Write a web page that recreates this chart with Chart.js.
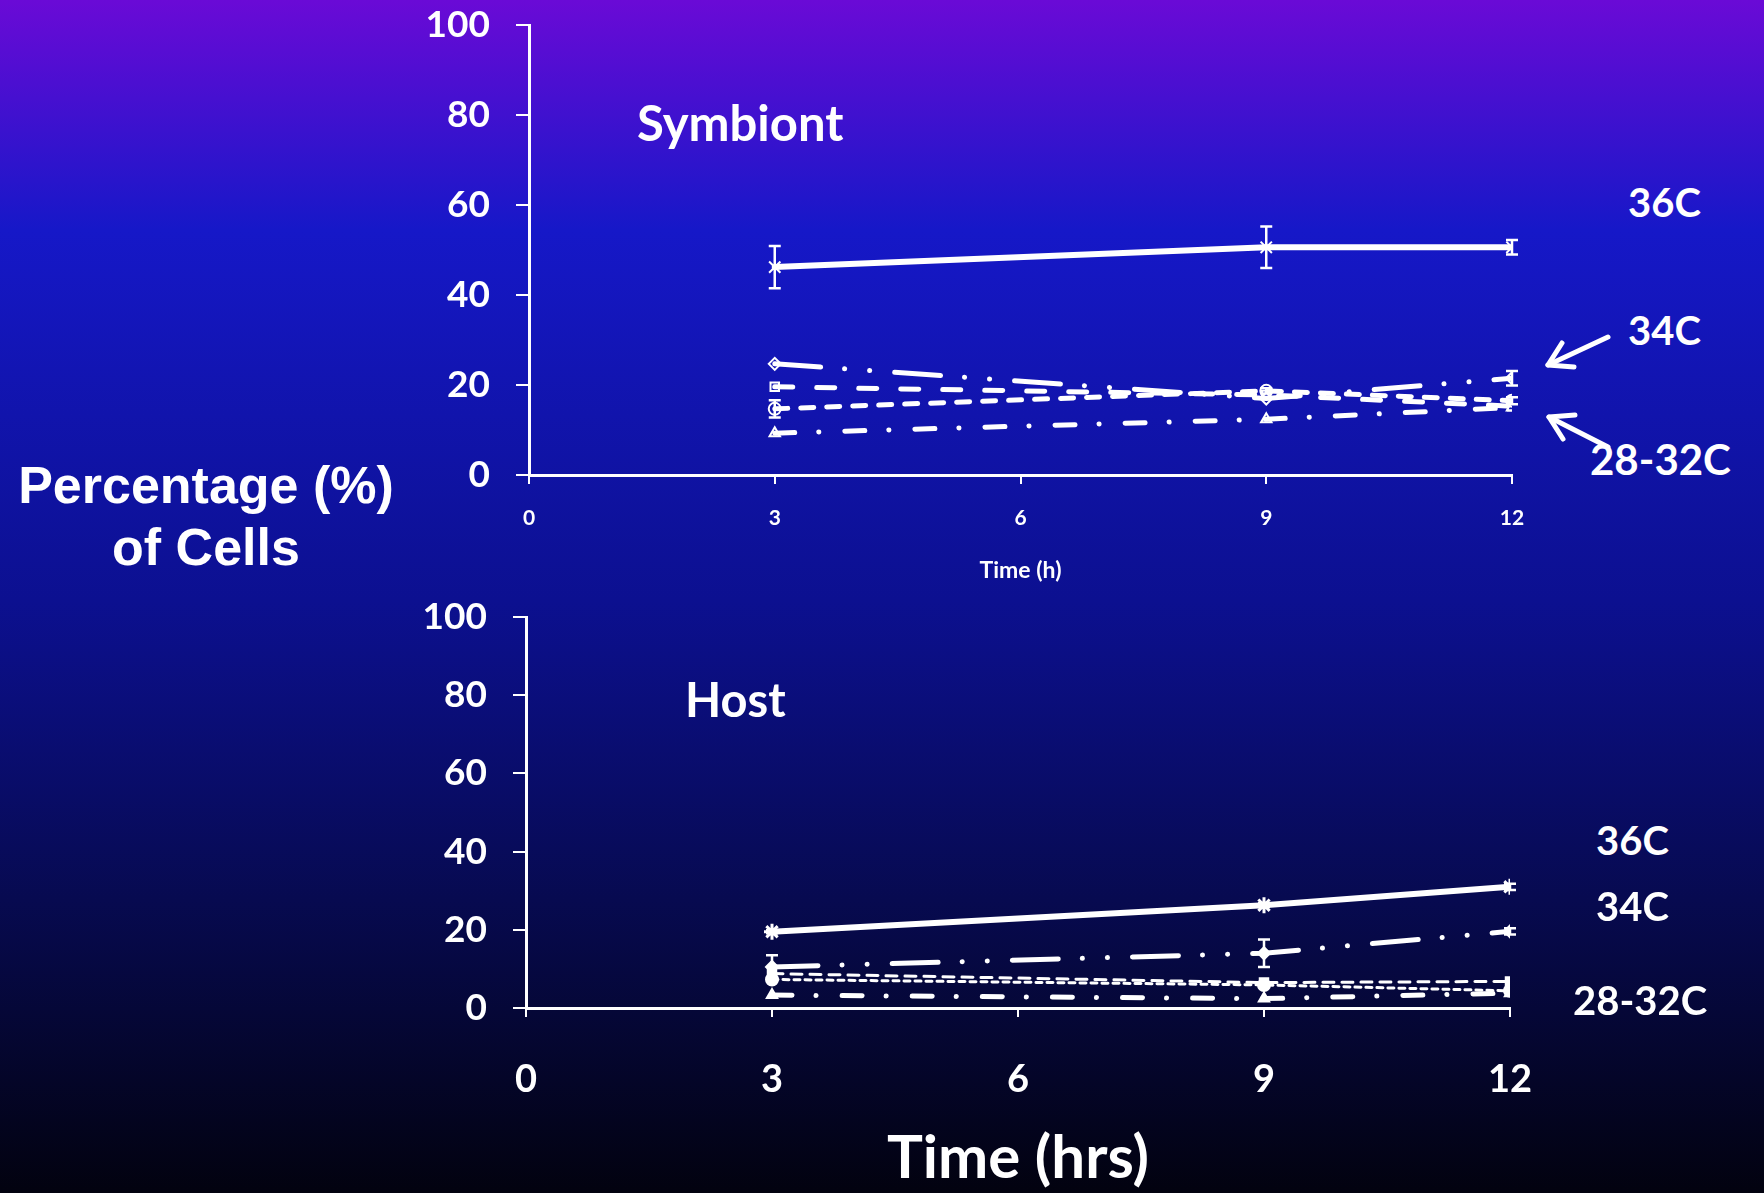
<!DOCTYPE html>
<html>
<head>
<meta charset="utf-8">
<script src="https://cdn.jsdelivr.net/npm/chart.js@4"></script>
<style>
  html, body { margin: 0; padding: 0; }
  body {
    width: 1764px; height: 1193px; overflow: hidden; position: relative;
    background: linear-gradient(to bottom, #6a0ad6 0px, #1618c8 230px, #0c1090 600px, #070a50 900px, #02020f 1193px);
    font-family: Lato, "Open Sans", sans-serif; color: #fff;
  }
  .wrap { position: absolute; }
  .lbl { position: absolute; font-weight: bold; white-space: nowrap; line-height: 1; }
</style>
</head>
<body>
<div class="wrap" style="left:400px; top:-30px; width:1152px; height:630px;"><canvas id="symbiontChart"></canvas></div>
<div class="wrap" style="left:400px; top:560px; width:1190px; height:633px;"><canvas id="hostChart"></canvas></div>

<div class="lbl" style="left:0px; top:454px; width:412px; text-align:center; font-family:'Liberation Sans', Arial, sans-serif; font-size:52px; line-height:62px;">Percentage (%)<br>of Cells</div>
<div class="lbl" style="left:637px; top:98px; font-size:49px;">Symbiont</div>
<div class="lbl" style="left:685px; top:676px; font-size:47px;">Host</div>

<div class="lbl" style="left:1628px; top:182px; font-size:40px;">36C</div>
<div class="lbl" style="left:1628px; top:310px; font-size:40px;">34C</div>
<div class="lbl" style="left:1590px; top:438px; font-size:42px;">28-32C</div>
<div class="lbl" style="left:1596px; top:820px; font-size:40px;">36C</div>
<div class="lbl" style="left:1596px; top:886px; font-size:40px;">34C</div>
<div class="lbl" style="left:1573px; top:980px; font-size:40px;">28-32C</div>

<svg style="position:absolute; left:0; top:0;" width="1764" height="1193">
  <g stroke="#fff" stroke-width="5" fill="none" stroke-linecap="round" stroke-linejoin="round">
    <line x1="1608" y1="337" x2="1548" y2="365"/>
    <polyline points="1562,343 1548,365 1574,367"/>
    <line x1="1608" y1="447" x2="1549" y2="417"/>
    <polyline points="1563,439 1549,417 1575,415"/>
  </g>
</svg>

<script>
// sampling times (h)
const times = [3, 9, 12];
const xTicks = [0, 3, 6, 9, 12];
const yTicks = [0, 20, 40, 60, 80, 100];

// Symbiont (% of cells)
const sym36 = [46.2, 50.6, 50.6];
const sym36Err = [4.7, 4.6, 1.6];
const sym34 = [24.7, 17.0, 21.5];
const sym34Err = [0, 0, 1.6];
const sym32 = [19.6, 17.8, 15.3];
const sym30 = [14.7, 18.7, 16.5];
const sym30Err = [1.9, 0.6, 0.8];
const sym28 = [9.3, 12.4, 15.0];

// Host (% of cells)
const host36 = [19.5, 26.3, 31.0];
const host36Err = [0.4, 0.5, 0.8];
const host34 = [10.5, 14.0, 19.6];
const host34Err = [3.0, 3.5, 0.8];
const host32 = [8.8, 6.5, 6.8];
const host30 = [7.3, 5.9, 4.4];
const host28 = [3.3, 2.4, 3.8];

const white = '#ffffff';

function pts(vals) {
    return times.map((t, i) => ({ x: t, y: vals[i] }));
}

// draws vertical error bars from a dataset's "errors" array
const errorBars = {
    id: 'errorBars',
    afterDatasetsDraw(chart) {
        const ctx = chart.ctx;
        const yScale = chart.scales.y;
        chart.data.datasets.forEach((ds, di) => {
            if (!ds.errors) return;
            const meta = chart.getDatasetMeta(di);
            ctx.save();
            ctx.strokeStyle = white;
            ctx.lineWidth = 2.5;
            meta.data.forEach((pt, i) => {
                const e = ds.errors[i];
                if (!e) return;
                const v = ds.data[i].y;
                const top = yScale.getPixelForValue(v + e);
                const bot = yScale.getPixelForValue(v - e);
                ctx.beginPath();
                ctx.moveTo(pt.x, top); ctx.lineTo(pt.x, bot);
                ctx.moveTo(pt.x - 6, top); ctx.lineTo(pt.x + 6, top);
                ctx.moveTo(pt.x - 6, bot); ctx.lineTo(pt.x + 6, bot);
                ctx.stroke();
            });
            ctx.restore();
        });
    }
};

function series(vals, opts) {
    return Object.assign({
        data: pts(vals),
        borderColor: white,
        pointBorderColor: white,
        pointBackgroundColor: 'rgba(0,0,0,0)',
        pointRadius: 6,
        pointBorderWidth: 2,
        borderCapStyle: 'round',
        tension: 0
    }, opts);
}

function makeOptions(cfg) {
    return {
        responsive: true,
        maintainAspectRatio: false,
        animation: false,
        events: [],
        layout: { padding: { top: cfg.padTop, right: cfg.padRight, left: 0, bottom: 0 } },
        plugins: { legend: { display: false }, tooltip: { enabled: false } },
        scales: {
            x: {
                type: 'linear', min: 0, max: 12,
                afterBuildTicks: (axis) => { axis.ticks = xTicks.map(v => ({ value: v })); },
                afterFit: (axis) => { axis.height = cfg.xHeight; },
                border: { color: white, width: 3 },
                grid: { drawOnChartArea: false, drawTicks: true, tickLength: 9, color: white, lineWidth: 2 },
                ticks: { color: white, padding: cfg.xPad, font: { family: 'Lato', weight: 'bold', size: cfg.xFont } },
                title: { display: true, text: cfg.xTitle, color: white, padding: { top: 0, bottom: cfg.titlePad },
                    font: { family: 'Lato', weight: 'bold', size: cfg.titleFont, lineHeight: 1 } }
            },
            y: {
                min: 0, max: 100,
                afterBuildTicks: (axis) => { axis.ticks = yTicks.map(v => ({ value: v })); },
                afterFit: (axis) => { axis.width = cfg.yWidth; },
                border: { color: white, width: 3 },
                grid: { drawOnChartArea: false, drawTicks: true, tickLength: 13, color: white, lineWidth: 2 },
                ticks: { color: white, padding: 26, font: { family: 'Lato', weight: 'bold', size: 37 } }
            }
        }
    };
}

new Chart(document.getElementById('symbiontChart'), {
    type: 'line',
    data: {
        datasets: [
            series(sym36, { label: '36C', errors: sym36Err, borderWidth: 6, pointStyle: 'crossRot', pointRadius: 8 }),
            series(sym34, { label: '34C', errors: sym34Err, borderWidth: 5, borderDash: [46, 24, 0.1, 25, 0.1, 25], pointStyle: 'rectRot' }),
            series(sym32, { label: '32C', borderWidth: 5, borderDash: [18, 24], pointStyle: 'rect' }),
            series(sym30, { label: '30C', errors: sym30Err, borderWidth: 5, borderDash: [13, 13], pointStyle: 'circle' }),
            series(sym28, { label: '28C', borderWidth: 5, borderDash: [20, 24, 0.1, 26], pointStyle: 'triangle' })
        ]
    },
    options: makeOptions({ padTop: 55, padRight: 40, xHeight: 125, yWidth: 129, xPad: 22, xFont: 21,
        xTitle: 'Time (h)', titleFont: 23, titlePad: 18 }),
    plugins: [errorBars]
});

new Chart(document.getElementById('hostChart'), {
    type: 'line',
    data: {
        datasets: [
            series(host36, { label: '36C', errors: host36Err, borderWidth: 6, pointStyle: 'star', pointRadius: 8, pointBorderWidth: 3 }),
            series(host34, { label: '34C', errors: host34Err, borderWidth: 5, borderDash: [46, 24, 0.1, 25, 0.1, 25], pointStyle: 'rectRot', pointBackgroundColor: white }),
            series(host32, { label: '32C', borderWidth: 3, borderDash: [11, 8], pointStyle: 'rect', pointBackgroundColor: white }),
            series(host30, { label: '30C', borderWidth: 3, borderDash: [6, 5], pointStyle: 'circle', pointBackgroundColor: white }),
            series(host28, { label: '28C', borderWidth: 5, borderDash: [20, 24, 0.1, 26], pointStyle: 'triangle', pointBackgroundColor: white })
        ]
    },
    options: makeOptions({ padTop: 57, padRight: 80, xHeight: 185, yWidth: 126, xPad: 40, xFont: 38,
        xTitle: 'Time (hrs)', titleFont: 60, titlePad: 4 }),
    plugins: [errorBars]
});
</script>
</body>
</html>
